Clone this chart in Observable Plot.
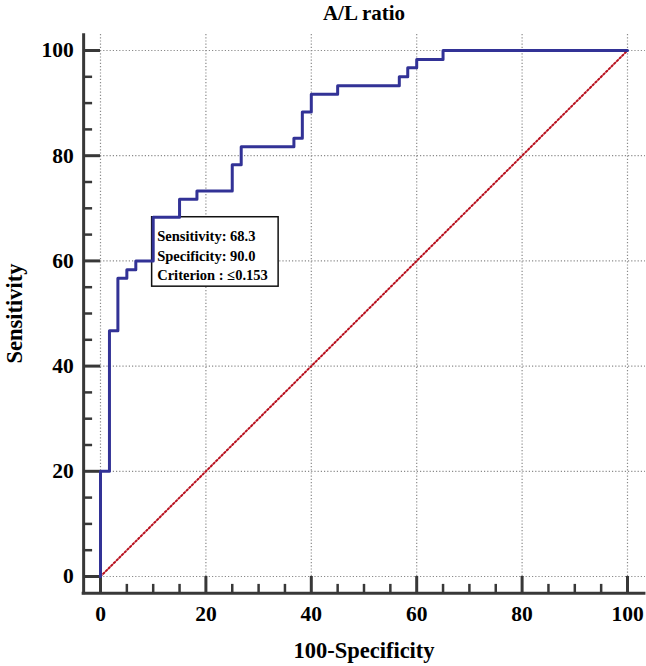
<!DOCTYPE html>
<html>
<head>
<meta charset="utf-8">
<script src="https://cdn.jsdelivr.net/npm/d3@7"></script>
<script src="https://cdn.jsdelivr.net/npm/@observablehq/plot@0.6"></script>
<style>
  html, body { margin: 0; padding: 0; background: #fff; }
</style>
</head>
<body>
<div id="chart"></div>
<script>
// Data
const title = "A/L ratio";
const xLabel = "100-Specificity";
const yLabel = "Sensitivity";
const fpr = [0, 0, 1.7, 3.3, 5, 6.7, 10, 15, 18.3, 25, 26.7, 36.7, 38.3, 40, 45, 56.7, 58.3, 60, 65, 100];
const tpr = [0, 20, 46.7, 56.7, 58.3, 60, 68.3, 71.7, 73.3, 78.3, 81.7, 83.3, 88.3, 91.7, 93.3, 95, 96.7, 98.3, 100, 100];
const diagX = [0, 100];
const diagY = [0, 100];
const majorTicks = [0, 20, 40, 60, 80, 100];
const minorTicks = [5, 10, 15, 25, 30, 35, 45, 50, 55, 65, 70, 75, 85, 90, 95];
const criterionX = [10];
const criterionY = [68.3];
const criterionText = ["Sensitivity: 68.3\nSpecificity: 90.0\nCriterion : ≤0.153"];

const curve = fpr.map((x, i) => ({x, y: tpr[i]}));
const diag = diagX.map((x, i) => ({x, y: diagY[i]}));
const crit = criterionX.map((x, i) => ({x, y: criterionY[i], text: criterionText[i]}));

const axMin = -3.2;
const font = "'Liberation Serif', 'Times New Roman', serif";
const axisColor = "#383838";

const chart = Plot.plot({
  width: 646,
  height: 666,
  margin: 0,
  x: {domain: [0, 100], range: [100, 627], axis: null},
  y: {domain: [0, 100], range: [576, 50], axis: null},
  style: {fontFamily: font, background: "#fff"},
  marks: [
    // grid
    Plot.ruleX(majorTicks, {x: d => d, y1: 0, y2: 103.2, stroke: "#8a8a8a", strokeWidth: 1.2, strokeDasharray: "1.2,2"}),
    Plot.ruleY(majorTicks, {y: d => d, x1: 0, x2: 103.4, stroke: "#8a8a8a", strokeWidth: 1.2, strokeDasharray: "1.2,2"}),
    // diagonal reference
    Plot.line(diag, {x: "x", y: "y", stroke: "#b8101e", strokeWidth: 2, strokeDasharray: "1.6,2.2"}),
    // axes lines
    Plot.ruleX([axMin], {x: d => d, y1: axMin - 0.28, y2: 103.2, stroke: axisColor, strokeWidth: 3}),
    Plot.ruleY([axMin], {y: d => d, x1: axMin - 0.28, x2: 103.5, stroke: axisColor, strokeWidth: 3}),
    // ticks
    Plot.ruleY(majorTicks, {y: d => d, x1: axMin, x2: 0, stroke: axisColor, strokeWidth: 3}),
    Plot.ruleY(minorTicks, {y: d => d, x1: axMin, x2: -1.5, stroke: axisColor, strokeWidth: 2.5}),
    Plot.ruleX(majorTicks, {x: d => d, y1: axMin, y2: 0, stroke: axisColor, strokeWidth: 3}),
    Plot.ruleX(minorTicks, {x: d => d, y1: axMin, y2: -1.5, stroke: axisColor, strokeWidth: 2.5}),
    // tick labels
    Plot.text(majorTicks, {x: axMin, y: d => d, text: d => String(d), dx: -10, textAnchor: "end", lineAnchor: "middle", fontSize: 21.5, fontWeight: "bold", fill: "#000"}),
    Plot.text(majorTicks, {x: d => d, y: axMin, text: d => String(d), dy: 21, textAnchor: "middle", lineAnchor: "middle", fontSize: 21.5, fontWeight: "bold", fill: "#000"}),
    // criterion box
    Plot.rect(crit, {x1: d => d.x - 0.2, x2: d => d.x + 23.8, y1: d => d.y - 13.2, y2: d => d.y, fill: "#fff", stroke: "#111", strokeWidth: 1.5}),
    // ROC curve
    Plot.line(curve, {x: "x", y: "y", curve: "step-after", stroke: "#323296", strokeWidth: 3}),
    Plot.text(crit, {x: "x", y: "y", text: "text", dx: 4, dy: 10, textAnchor: "start", lineAnchor: "top", lineHeight: 1.345, fontSize: 14.5, fontWeight: "bold", fill: "#000"}),
    // titles
    Plot.text([title], {x: 50, y: 100, dy: -37, text: d => d, textAnchor: "middle", lineAnchor: "middle", fontSize: 21, fontWeight: "bold", fill: "#000"}),
    Plot.text([xLabel], {x: 50, y: axMin, dy: 57, text: d => d, textAnchor: "middle", lineAnchor: "middle", fontSize: 22.5, fontWeight: "bold", fill: "#000"}),
    Plot.text([yLabel], {x: axMin, y: 50, dx: -69, text: d => d, rotate: -90, textAnchor: "middle", lineAnchor: "middle", fontSize: 22.5, fontWeight: "bold", fill: "#000"})
  ]
});
document.getElementById("chart").appendChild(chart);
</script>
</body>
</html>
